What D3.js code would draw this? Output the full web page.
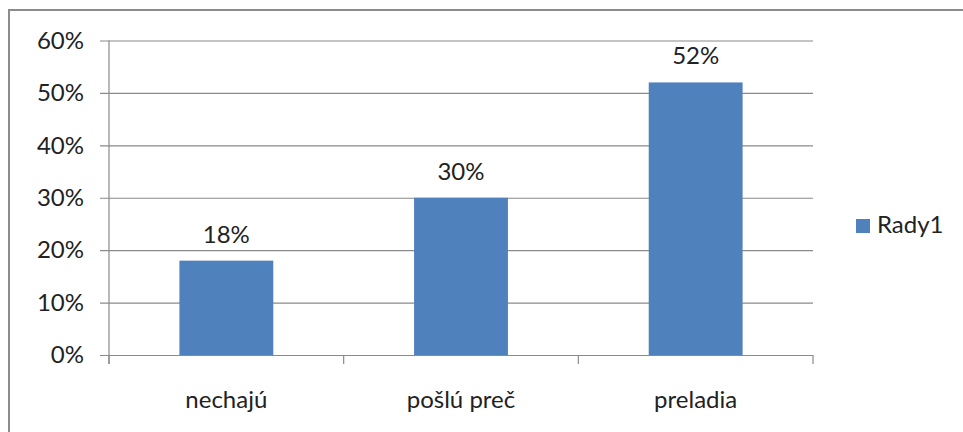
<!DOCTYPE html>
<html>
<head>
<meta charset="utf-8">
<script src="https://cdn.jsdelivr.net/npm/d3@7"></script>
<style>
  html, body { margin: 0; padding: 0; background: #fff; }
  svg { display: block; }
  text { font-family: Lato, "Open Sans", sans-serif; fill: #222; }
</style>
</head>
<body>
<svg id="chart" width="963" height="432"></svg>
<script>
// Chart data
const categories = ["nechajú", "pošlú preč", "preladia"];
const values = [0.18, 0.30, 0.52];
const seriesName = "Rady1";
const yTicks = [0, 0.1, 0.2, 0.3, 0.4, 0.5, 0.6];

const W = 963, H = 432;
const plot = { left: 109, right: 813, top: 40.5, bottom: 355 };
const barColor = "#4F81BD";
const gridColor = "#8a8a8a";
const fontSize = 24;

const svg = d3.select("#chart");

// Outer chart frame (extends past the right and bottom edges)
svg.append("rect")
  .attr("x", 9).attr("y", 10)
  .attr("width", W + 20).attr("height", H + 20)
  .attr("fill", "#fff")
  .attr("stroke", "#8c8c8c")
  .attr("stroke-width", 2);

const x = d3.scaleBand()
  .domain(categories)
  .range([plot.left, plot.right])
  .paddingInner(0.6)
  .paddingOuter(0.3);

const xCat = d3.scaleBand()
  .domain(categories)
  .range([plot.left, plot.right])
  .padding(0);

const y = d3.scaleLinear()
  .domain([0, 0.6])
  .range([plot.bottom, plot.top]);

const pct = d3.format(".0%");

// Horizontal gridlines with short ticks to the left
const yAxis = d3.axisLeft(y)
  .tickValues(yTicks)
  .tickFormat(pct)
  .tickSize(-(plot.right - plot.left))
  .tickSizeOuter(0)
  .tickPadding(25);

const gy = svg.append("g")
  .attr("transform", `translate(${plot.left},0)`)
  .call(yAxis);
gy.select(".domain").remove();
gy.selectAll(".tick line")
  .attr("x1", -9)
  .attr("stroke", gridColor)
  .attr("stroke-width", 1.2);
gy.selectAll(".tick text")
  .attr("font-size", fontSize)
  .style("font-family", "Lato, 'Open Sans', sans-serif")
  .attr("fill", "#222");

// Vertical axis line
svg.append("line")
  .attr("x1", plot.left).attr("x2", plot.left)
  .attr("y1", y(0.6)).attr("y2", y(0) + 9)
  .attr("stroke", gridColor)
  .attr("stroke-width", 1.2);

// Category boundary ticks below the baseline
const bounds = categories.map(c => xCat(c)).concat([xCat(categories[categories.length - 1]) + xCat.bandwidth()]);
svg.append("g").selectAll("line")
  .data(bounds)
  .join("line")
  .attr("x1", d => d).attr("x2", d => d)
  .attr("y1", y(0)).attr("y2", y(0) + 9)
  .attr("stroke", gridColor)
  .attr("stroke-width", 1.2);

// Bars
svg.append("g").selectAll("rect")
  .data(categories)
  .join("rect")
  .attr("x", d => x(d))
  .attr("width", x.bandwidth())
  .attr("y", (d, i) => y(values[i]))
  .attr("height", (d, i) => y(0) - y(values[i]))
  .attr("fill", barColor);

// Value labels
svg.append("g").selectAll("text")
  .data(categories)
  .join("text")
  .attr("x", d => x(d) + x.bandwidth() / 2)
  .attr("y", (d, i) => y(values[i]) - 18)
  .attr("text-anchor", "middle")
  .attr("font-size", fontSize)
  .text((d, i) => pct(values[i]));

// Category labels
svg.append("g").selectAll("text")
  .data(categories)
  .join("text")
  .attr("x", d => xCat(d) + xCat.bandwidth() / 2)
  .attr("y", 408)
  .attr("text-anchor", "middle")
  .attr("font-size", fontSize)
  .text(d => d);

// Legend
const lg = svg.append("g");
lg.append("rect")
  .attr("x", 856).attr("y", 219)
  .attr("width", 14).attr("height", 14)
  .attr("fill", barColor);
lg.append("text")
  .attr("x", 877).attr("y", 233)
  .attr("font-size", fontSize)
  .text(seriesName);
</script>
</body>
</html>
